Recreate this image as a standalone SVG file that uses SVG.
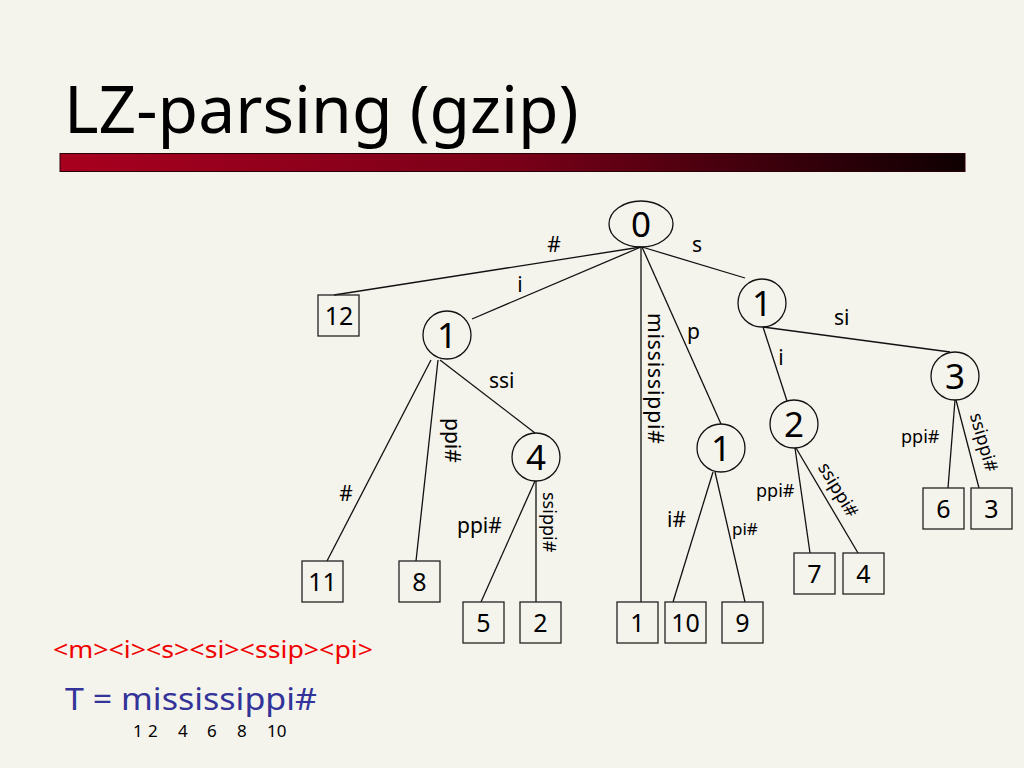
<svg xmlns="http://www.w3.org/2000/svg" width="1024" height="768" viewBox="0 0 1024 768">
<defs>
<linearGradient id="bar" x1="0" y1="0" x2="1" y2="0">
<stop offset="0" stop-color="#a8001f"/>
<stop offset="0.5" stop-color="#7a0018"/>
<stop offset="1" stop-color="#0e0002"/>
</linearGradient>
<style>
.t{font-family:"Noto Sans","Open Sans","DejaVu Sans",sans-serif;fill:#000}
.lbl{font-size:21px}
.sm{font-size:18px}
.box rect{fill:none;stroke:#222;stroke-width:1.3}
.box text{font-size:25px;text-anchor:middle}
.cir circle,.cir ellipse{fill:none;stroke:#111;stroke-width:1.3}
.cir text{font-size:35px;text-anchor:middle}
#edges line{stroke:#111;stroke-width:1.3}
</style>
</defs>
<rect x="0" y="0" width="1024" height="768" fill="#f4f3ec"/>
<text class="t" x="64" y="133" font-size="66">LZ-parsing (gzip)</text>
<rect x="60" y="153.5" width="905" height="18" fill="url(#bar)" stroke="#2a0008" stroke-width="1"/>

<g id="edges">
<line x1="641" y1="247" x2="334" y2="295"/>
<line x1="641" y1="247" x2="472" y2="319"/>
<line x1="641" y1="247" x2="641" y2="602"/>
<line x1="642" y1="247" x2="721" y2="424"/>
<line x1="642" y1="247" x2="745" y2="278"/>
<line x1="431" y1="360" x2="327" y2="561"/>
<line x1="438" y1="360" x2="416" y2="561"/>
<line x1="440" y1="360" x2="535" y2="433"/>
<line x1="535" y1="481" x2="481" y2="602"/>
<line x1="536" y1="481" x2="536" y2="602"/>
<line x1="713" y1="472" x2="673" y2="602"/>
<line x1="715" y1="472" x2="745" y2="602"/>
<line x1="763" y1="327" x2="950" y2="352"/>
<line x1="763" y1="327" x2="787" y2="401"/>
<line x1="795" y1="448" x2="810" y2="553"/>
<line x1="796" y1="448" x2="858" y2="553"/>
<line x1="955" y1="400" x2="948" y2="488"/>
<line x1="956" y1="400" x2="979" y2="488"/>
</g>

<g id="labels" class="t">
<text class="lbl" x="554" y="252" text-anchor="middle">#</text>
<text class="lbl" x="697" y="252" text-anchor="middle">s</text>
<text class="lbl" x="520" y="292" text-anchor="middle">i</text>
<text class="lbl" x="687" y="339">p</text>
<text class="lbl" x="489" y="388">ssi</text>
<text class="lbl" transform="translate(445,418) rotate(90)">ppi#</text>
<text class="lbl" transform="translate(648,313) rotate(90)" letter-spacing="0.9">mississippi#</text>
<text class="lbl" x="346" y="501" text-anchor="middle">#</text>
<text class="lbl" x="457" y="533">ppi#</text>
<text class="sm" transform="translate(543,492) rotate(90)">ssippi#</text>
<text class="lbl" x="667" y="527">i#</text>
<text class="t" font-size="17" x="732" y="535">pi#</text>
<text class="lbl" x="834" y="325">si</text>
<text class="lbl" x="781" y="365" text-anchor="middle">i</text>
<text class="sm" x="756" y="497">ppi#</text>
<text class="sm" text-anchor="middle" transform="translate(833,493) rotate(59)">ssippi#</text>
<text class="sm" x="901" y="443">ppi#</text>
<text class="sm" text-anchor="middle" transform="translate(978,444) rotate(74)">ssippi#</text>
</g>

<g id="n-root" class="cir t"><ellipse cx="641" cy="224" rx="32" ry="23"/><text x="641" y="237">0</text></g>
<g id="n-i" class="cir t"><circle cx="447" cy="335" r="24"/><text x="447" y="348">1</text></g>
<g id="n-issi" class="cir t"><circle cx="536" cy="457" r="24"/><text x="536" y="470">4</text></g>
<g id="n-p" class="cir t"><circle cx="721" cy="448" r="24"/><text x="721" y="461">1</text></g>
<g id="n-s" class="cir t"><circle cx="762" cy="303" r="24"/><text x="762" y="316">1</text></g>
<g id="n-si" class="cir t"><circle cx="794" cy="424" r="24"/><text x="794" y="437">2</text></g>
<g id="n-ssi" class="cir t"><circle cx="955" cy="376" r="24"/><text x="955" y="389">3</text></g>

<g id="leaf-12" class="box t"><rect x="318" y="295" width="41" height="41"/><text x="339" y="325">12</text></g>
<g id="leaf-11" class="box t"><rect x="302" y="561" width="41" height="41"/><text x="322.5" y="591">11</text></g>
<g id="leaf-8" class="box t"><rect x="399" y="561" width="41" height="41"/><text x="419.5" y="591">8</text></g>
<g id="leaf-5" class="box t"><rect x="463" y="602" width="41" height="41"/><text x="483.5" y="632">5</text></g>
<g id="leaf-2" class="box t"><rect x="520" y="602" width="41" height="41"/><text x="540.5" y="632">2</text></g>
<g id="leaf-1" class="box t"><rect x="617" y="602" width="41" height="41"/><text x="637.5" y="632">1</text></g>
<g id="leaf-10" class="box t"><rect x="665" y="602" width="41" height="41"/><text x="685.5" y="632">10</text></g>
<g id="leaf-9" class="box t"><rect x="722" y="602" width="41" height="41"/><text x="742.5" y="632">9</text></g>
<g id="leaf-7" class="box t"><rect x="794" y="553" width="41" height="41"/><text x="814.5" y="583">7</text></g>
<g id="leaf-4" class="box t"><rect x="843" y="553" width="41" height="41"/><text x="863.5" y="583">4</text></g>
<g id="leaf-6" class="box t"><rect x="923" y="488" width="41" height="41"/><text x="943.5" y="518">6</text></g>
<g id="leaf-3" class="box t"><rect x="971" y="488" width="41" height="41"/><text x="991.5" y="518">3</text></g>

<g id="bottom">
<text class="t" x="53" y="658" font-size="23" style="fill:#f00000" textLength="320" lengthAdjust="spacingAndGlyphs">&lt;m&gt;&lt;i&gt;&lt;s&gt;&lt;si&gt;&lt;ssip&gt;&lt;pi&gt;</text>
<text class="t" x="65" y="710" font-size="30" style="fill:#333399" textLength="252" lengthAdjust="spacingAndGlyphs">T = mississippi#</text>
<g class="t" font-size="17">
<text x="133" y="737">1</text>
<text x="148" y="737">2</text>
<text x="178" y="737">4</text>
<text x="207" y="737">6</text>
<text x="237" y="737">8</text>
<text x="267" y="737">10</text>
</g>
</g>
</svg>
